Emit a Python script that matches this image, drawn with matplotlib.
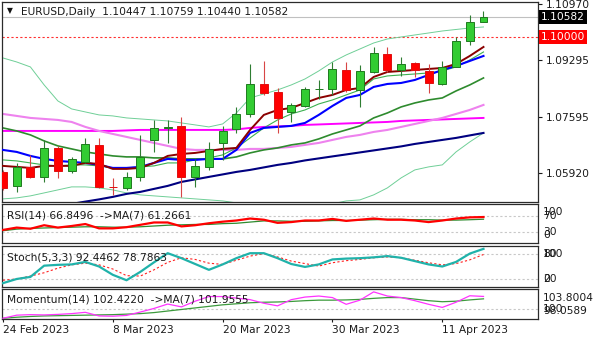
import numpy as np
import matplotlib
matplotlib.use("Agg")
from matplotlib import pyplot as plt

# EURUSD daily bars, 24 Feb - 14 Apr 2023
opens = [1.05960, 1.05532, 1.06091, 1.05792, 1.06660, 1.05990, 1.06241, 1.06758, 1.05500, 1.05463,
         1.05810, 1.06908, 1.07258, 1.07327, 1.05792, 1.06109, 1.06827, 1.07228, 1.07677, 1.08574,
         1.08335, 1.07737, 1.07934, 1.08420, 1.08425, 1.09002, 1.08404, 1.08942, 1.09471, 1.09002,
         1.09202, 1.08981, 1.08574, 1.09101, 1.09878, 1.10447]
highs = [1.06000, 1.06211, 1.06459, 1.06908, 1.06728, 1.06408, 1.06959, 1.06959, 1.05762, 1.05960,
         1.07058, 1.07506, 1.07506, 1.07605, 1.06331, 1.06857, 1.07327, 1.07886, 1.09181, 1.09280,
         1.08454, 1.08006, 1.08502, 1.08703, 1.09250, 1.09250, 1.09151, 1.09699, 1.09699, 1.09382,
         1.09250, 1.09172, 1.09271, 1.09980, 1.10647, 1.10759]
lows = [1.05420, 1.05361, 1.05771, 1.05661, 1.05762, 1.05912, 1.06211, 1.05463, 1.05263, 1.05412,
        1.05690, 1.06558, 1.06809, 1.05212, 1.05511, 1.06011, 1.06310, 1.07108, 1.07605, 1.08254,
        1.07126, 1.07455, 1.07904, 1.08134, 1.08254, 1.08353, 1.07886, 1.08900, 1.08951, 1.08822,
        1.08783, 1.08305, 1.08553, 1.09101, 1.09750, 1.10440]
closes = [1.05463, 1.06091, 1.05792, 1.06678, 1.05990, 1.06340, 1.06779, 1.05511, 1.05493, 1.05810,
          1.06390, 1.07258, 1.07306, 1.05810, 1.06139, 1.06639, 1.07186, 1.07677, 1.08574, 1.08323,
          1.07575, 1.07946, 1.08425, 1.08425, 1.09032, 1.08404, 1.08981, 1.09501, 1.09002, 1.09172,
          1.09002, 1.08604, 1.09101, 1.09878, 1.10429, 1.10582]

date_labels = ["24 Feb 2023", "8 Mar 2023", "20 Mar 2023", "30 Mar 2023", "11 Apr 2023"]
date_bars = [0, 8, 16, 24, 32]
price_ticks = [1.10970, 1.09295, 1.07595, 1.05920]
alert_level = 1.10000

# overlays on the price window
bb_upper = [1.09362, 1.09242, 1.09093, 1.08555, 1.08076, 1.07837, 1.07747, 1.07658, 1.07628, 1.07568,
            1.07538, 1.07508, 1.07478, 1.07418, 1.07359, 1.07299, 1.07388, 1.07717, 1.08166, 1.08285,
            1.08405, 1.08555, 1.08734, 1.08973, 1.09242, 1.09452, 1.09631, 1.09810, 1.09930, 1.09990,
            1.10050, 1.10109, 1.10169, 1.10214, 1.10259, 1.10289]
bb_lower = [1.05146, 1.05176, 1.05236, 1.05325, 1.05415, 1.05505, 1.05505, 1.05475, 1.05415, 1.05325,
            1.05266, 1.05236, 1.05206, 1.05176, 1.05146, 1.05116, 1.05086, 1.05026, 1.04937, 1.04847,
            1.04787, 1.04817, 1.04877, 1.04937, 1.04996, 1.05086, 1.05116, 1.05266, 1.05475, 1.05774,
            1.06013, 1.06103, 1.06163, 1.06551, 1.06850, 1.07119]
bb_mid = [1.07269, 1.07179, 1.07060, 1.06880, 1.06731, 1.06641, 1.06551, 1.06491, 1.06432, 1.06402,
          1.06402, 1.06372, 1.06372, 1.06342, 1.06342, 1.06342, 1.06342, 1.06402, 1.06521, 1.06611,
          1.06671, 1.06761, 1.06820, 1.06940, 1.07089, 1.07209, 1.07329, 1.07568, 1.07717, 1.07897,
          1.08016, 1.08106, 1.08166, 1.08375, 1.08555, 1.08764]
ma_fast = [1.06133, 1.06103, 1.06073, 1.06133, 1.06133, 1.06133, 1.06222, 1.06192, 1.06043, 1.06043,
           1.06073, 1.06222, 1.06432, 1.06491, 1.06521, 1.06581, 1.06641, 1.06671, 1.07209, 1.07658,
           1.07807, 1.07867, 1.08016, 1.08166, 1.08256, 1.08405, 1.08465, 1.08794, 1.08943, 1.08973,
           1.09003, 1.09033, 1.09063, 1.09182, 1.09422, 1.09691]
ma_thin = [1.06312, 1.06282, 1.06222, 1.06163, 1.06133, 1.06163, 1.06163, 1.06133, 1.06073, 1.06073,
           1.06103, 1.06133, 1.06222, 1.06222, 1.06312, 1.06372, 1.06462, 1.06671, 1.06970, 1.07269,
           1.07508, 1.07687, 1.07807, 1.07986, 1.08106, 1.08256, 1.08405, 1.08734, 1.08824, 1.08854,
           1.08883, 1.08913, 1.08973, 1.09093, 1.09302, 1.09541]
ma_blue = [1.06611, 1.06551, 1.06432, 1.06342, 1.06282, 1.06252, 1.06222, 1.06163, 1.06073, 1.06073,
           1.06103, 1.06222, 1.06342, 1.06312, 1.06312, 1.06342, 1.06342, 1.06611, 1.07119, 1.07269,
           1.07299, 1.07329, 1.07418, 1.07658, 1.07927, 1.08166, 1.08256, 1.08495, 1.08584, 1.08614,
           1.08704, 1.08854, 1.09003, 1.09123, 1.09272, 1.09422]
ma_violet = [1.07687, 1.07628, 1.07568, 1.07538, 1.07508, 1.07448, 1.07299, 1.07179, 1.07089, 1.07000,
             1.06910, 1.06820, 1.06731, 1.06641, 1.06611, 1.06611, 1.06611, 1.06611, 1.06641, 1.06641,
             1.06671, 1.06701, 1.06761, 1.06820, 1.06910, 1.07000, 1.07060, 1.07149, 1.07209, 1.07299,
             1.07388, 1.07478, 1.07568, 1.07687, 1.07807, 1.07957]
ma_magenta = [1.07179, 1.07179, 1.07179, 1.07179, 1.07179, 1.07179, 1.07179, 1.07179, 1.07179, 1.07194,
              1.07209, 1.07209, 1.07209, 1.07209, 1.07209, 1.07209, 1.07209, 1.07224, 1.07269, 1.07299,
              1.07314, 1.07329, 1.07359, 1.07373, 1.07388, 1.07403, 1.07418, 1.07433, 1.07448, 1.07478,
              1.07493, 1.07508, 1.07523, 1.07538, 1.07553, 1.07568]
ma_navy = [1.04638, 1.04727, 1.04802, 1.04877, 1.04937, 1.04996, 1.05065, 1.05131, 1.05206, 1.05295,
           1.05355, 1.05445, 1.05535, 1.05654, 1.05729, 1.05804, 1.05878, 1.05953, 1.06013, 1.06088,
           1.06163, 1.06222, 1.06297, 1.06357, 1.06417, 1.06476, 1.06536, 1.06596, 1.06656, 1.06716,
           1.06790, 1.06850, 1.06910, 1.06970, 1.07045, 1.07119]

# oscillators
rsi = [34, 40, 37, 46, 40, 44, 49, 38, 38, 41, 47, 53, 53, 43, 46, 51, 55, 58, 63, 60,
       52, 54, 58, 58, 62, 57, 60, 63, 60, 60, 58, 54, 58, 63, 66, 66.8496]
rsi_ma = [32, 36, 38, 39, 40, 41, 42, 42, 41, 41, 42, 44, 46, 47, 48, 48, 50, 51, 54, 57,
          57, 56, 56, 57, 58, 58, 59, 60, 61, 61, 60, 60, 59, 59, 60, 61.2661]
stoch_k = [10, 20, 25, 52, 54, 55, 61, 50, 30, 17, 37, 60, 82, 70, 56, 42, 55, 70, 82, 82,
           70, 56, 49, 55, 67, 69, 70, 72, 75, 71, 63, 55, 50, 61, 81, 92.4462]
stoch_d = [17, 20, 27, 35, 46, 54, 58, 54, 44, 28, 27, 42, 60, 71, 67, 58, 55, 65, 75, 81,
           73, 63, 57, 51, 59, 64, 67, 71, 73, 71, 65, 59, 54, 57, 66, 78.7863]
momentum = [98.2, 98.8, 98.9, 98.85, 98.95, 99.1, 99.35, 98.65, 98.6, 98.75,
            99.4, 100.1, 100.95, 100.4, 101.5, 102.4, 102.4, 102.1, 101.8, 101.1,
            100.6, 101.8, 102.3, 102.5, 102.2, 100.9, 101.7, 103.3, 102.5, 102.2,
            101.6, 100.9, 100.3, 101.3, 102.55, 102.4220]
momentum_ma = [98.2, 98.4, 98.55, 98.65, 98.7, 98.75, 98.8, 98.85, 98.9, 99.0,
               99.1, 99.3, 99.6, 99.9, 100.2, 100.5, 100.8, 101.0, 101.2, 101.3,
               101.35, 101.45, 101.6, 101.7, 101.7, 101.75, 101.85, 102.05, 102.2, 102.2,
               101.9, 101.6, 101.4, 101.5, 101.75, 101.9555]

W, H = 600, 343
FS = 7.7
plt.rcParams["font.family"] = ["DejaVu Sans"]
plt.rcParams["font.size"] = FS

fig = plt.figure(figsize=(W / 100, H / 100), dpi=100)
x = np.arange(len(closes))
XLIM = (-0.07, 38.97)


def add_panel(top: float, bottom: float):
    """
    Add a sub window between two pixel rows.
    """
    ax = fig.add_axes([2 / W, 1 - bottom / H, 536 / W, (bottom - top) / H])
    ax.set_xlim(*XLIM)
    ax.set_xticks([])
    ax.set_yticks([])
    for s in ax.spines.values():
        s.set_color("#2b2b2b")
        s.set_linewidth(0.9)
    return ax


def right_label(ax, text: str, value: float, dy: float = 0) -> None:
    """
    Level label on the right side of a window.
    """
    ax.annotate(text, xy=(1, value), xycoords=ax.get_yaxis_transform(),
                xytext=(5, dy), textcoords="offset pixels",
                ha="left", va="center", fontsize=FS, color="#1a1a1a", annotation_clip=False)


def dotted_level(ax, value: float) -> None:
    ax.axhline(value, color="#c8c8c8", lw=0.8, ls=(0, (2, 2)), zorder=1)


# price window
ax = add_panel(2, 202)
ax.set_ylim(1.05053, 1.11036)

ax.plot(x, bb_upper, color="#6fcf97", lw=0.7, zorder=2)
ax.plot(x, bb_lower, color="#6fcf97", lw=0.7, zorder=2)
ax.plot(x, ma_navy, color="#000080", lw=1.5, zorder=2)
ax.plot(x, ma_magenta, color="#ff00ff", lw=1.4, zorder=2)
ax.plot(x, ma_violet, color="#ee82ee", lw=1.5, zorder=2)
ax.plot(x, bb_mid, color="#2e8b2e", lw=1.2, zorder=2)
ax.plot(x, ma_thin, color="#3cb050", lw=0.8, zorder=2)
ax.plot(x, ma_blue, color="#0000ff", lw=1.5, zorder=3)
ax.plot(x, ma_fast, color="#8b0000", lw=1.4, zorder=3)

ax.axhline(closes[-1], color="#c0c0c0", lw=0.8, zorder=1)
ax.axhline(alert_level, color="#ff3030", lw=0.8, ls=(0, (2, 2)), zorder=1)

o = np.array(opens)
c = np.array(closes)
up = c >= o
body_lo = np.minimum(o, c)
body_h = np.maximum(np.abs(c - o), 0.00002)
ax.vlines(x[up], np.array(lows)[up], np.array(highs)[up], color="#2e7d32", lw=0.8, zorder=4)
ax.vlines(x[~up], np.array(lows)[~up], np.array(highs)[~up], color="#d84545", lw=0.8, zorder=4)
ax.bar(x[up], body_h[up], bottom=body_lo[up], width=0.58, color="#33cc33",
       edgecolor="#1f7a1f", linewidth=0.7, zorder=5)
ax.bar(x[~up], body_h[~up], bottom=body_lo[~up], width=0.58, color="#ff0000",
       edgecolor="#e01010", linewidth=0.7, zorder=5)

ax.yaxis.tick_right()
ax.set_yticks(price_ticks)
ax.set_yticklabels([f"{v:.5f}" for v in price_ticks])
ax.tick_params(axis="y", direction="out", length=3, width=0.8, pad=2.5,
               labelsize=FS, colors="#1a1a1a")

tag = ax.get_yaxis_transform()
ax.text(1 + 3 / 536, closes[-1], f"{closes[-1]:.5f}", transform=tag, ha="left", va="center",
        fontsize=FS, color="white",
        bbox=dict(boxstyle="square,pad=0.18", fc="black", ec="none"), clip_on=False, zorder=6)
ax.text(1 + 3 / 536, alert_level, f"{alert_level:.5f}", transform=tag, ha="left", va="center",
        fontsize=FS, color="white",
        bbox=dict(boxstyle="square,pad=0.18", fc="#ff0000", ec="none"), clip_on=False, zorder=6)

fig.text(10 / W, 1 - 11 / H, "\u25bc", fontsize=5.5, ha="center", va="center", color="#111111")
fig.text(21 / W, 1 - 12 / H,
         f"EURUSD,Daily  {opens[-1]:.5f} {highs[-1]:.5f} {lows[-1]:.5f} {closes[-1]:.5f}",
         ha="left", va="center", fontsize=FS, color="#1a1a1a")

# RSI window
ax_rsi = add_panel(204, 243.3)
ax_rsi.set_ylim(0, 100)
dotted_level(ax_rsi, 70)
dotted_level(ax_rsi, 30)
ax_rsi.plot(x, rsi_ma, color="#2e8b2e", lw=0.9, zorder=2)
ax_rsi.plot(x, rsi, color="#ff0000", lw=1.6, zorder=3)
right_label(ax_rsi, "100", 100, -8)
right_label(ax_rsi, "70", 70)
right_label(ax_rsi, "30", 30)
right_label(ax_rsi, "0", 0, 8.5)
fig.text(7 / W, 1 - 215.5 / H, f"RSI(14) {rsi[-1]:.4f}  ->MA(7) {rsi_ma[-1]:.4f}",
         ha="left", va="center", fontsize=FS, color="#1a1a1a")

# Stochastic window
ax_st = add_panel(245.7, 287.3)
ax_st.set_ylim(0, 100)
dotted_level(ax_st, 80)
dotted_level(ax_st, 20)
ax_st.plot(x, stoch_d, color="#ff2020", lw=0.8, ls=(0, (2, 2)), zorder=2)
ax_st.plot(x, stoch_k, color="#20b2aa", lw=1.6, zorder=3)
right_label(ax_st, "100", 100, -8)
right_label(ax_st, "80", 80)
right_label(ax_st, "20", 20)
right_label(ax_st, "0", 0, 8)
fig.text(7 / W, 1 - 257.3 / H, f"Stoch(5,3,3) {stoch_k[-1]:.4f} {stoch_d[-1]:.4f}",
         ha="left", va="center", fontsize=FS, color="#1a1a1a")

# Momentum window
mom_lo, mom_hi = 98.0589, 103.8004
ax_mom = add_panel(289.3, 319)
ax_mom.set_ylim(mom_lo, mom_hi)
dotted_level(ax_mom, 100)
ax_mom.plot(x, momentum_ma, color="#3c9a3c", lw=0.9, zorder=2)
ax_mom.plot(x, momentum, color="#ff33ff", lw=0.9, zorder=3)
right_label(ax_mom, f"{mom_hi:.4f}", mom_hi, -9)
right_label(ax_mom, "100", 100)
right_label(ax_mom, f"{mom_lo:.4f}", mom_lo, 8)
fig.text(7 / W, 1 - 300 / H, f"Momentum(14) {momentum[-1]:.4f}  ->MA(7) {momentum_ma[-1]:.4f}",
         ha="left", va="center", fontsize=FS, color="#1a1a1a")

ax_mom.set_xticks(date_bars)
ax_mom.set_xticklabels(date_labels, ha="left")
ax_mom.tick_params(axis="x", direction="out", length=2.5, width=0.8, pad=2,
                   labelsize=FS, colors="#1a1a1a")

fig.savefig("out.png", dpi=100, facecolor="white")
